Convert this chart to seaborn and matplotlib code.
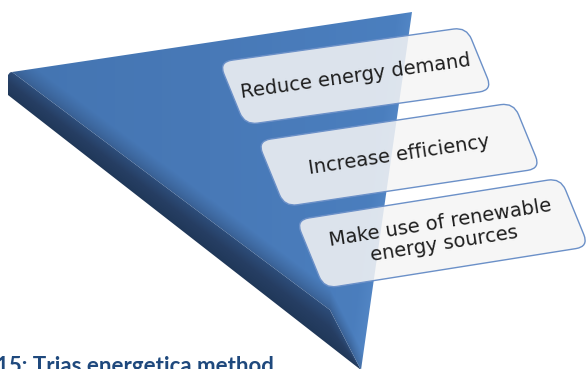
import numpy as np
import matplotlib
matplotlib.use("Agg")
import matplotlib.pyplot as plt
import seaborn as sns
from matplotlib.patches import Polygon, FancyBboxPatch
from matplotlib.transforms import Affine2D

# ---- content ----
labels = ["Reduce energy demand", "Increase efficiency",
          "Make use of renewable\nenergy sources"]
steps = [0, 1, 2]
caption = "15: Trias energetica method"

sns.set_theme(style="white")
plt.rcParams['font.family'] = ['DejaVu Sans']

W, H = 587, 369
fig = plt.figure(figsize=(W / 100, H / 100), dpi=100)
ax = fig.add_axes([0, 0, 1, 1])
ax.axis('off')

# ---- triangle geometry (layout) ----
A = (12, 72)      # top-left corner of top face
B = (412, 12)     # top-right corner
K = (330, 310)    # bevel knee near tip
T = (361, 370)    # bottom tip
O = (8, 95)       # outer lower-left corner of side face

yy, xx = np.mgrid[0:H, 0:W] + 0.5

y_bev = np.where(xx <= K[0],
                 A[1] + (xx - A[0]) * (K[1] - A[1]) / (K[0] - A[0]),
                 K[1] + (xx - K[0]) * (T[1] - K[1]) / (T[0] - K[0]))
y_out = O[1] + (xx - O[0]) * (T[1] - O[1]) / (T[0] - O[0])

# top face gradient
top_cmap = sns.blend_palette(["#4475b2", "#4879b7", "#4b7fbf"], as_cmap=True)
t = np.clip((xx - 20) / 380, 0, 1)
top_rgb = top_cmap(t)[..., :3]
dist = np.clip((y_bev - yy) / 22, 0, 1)[..., None] ** 0.8
top_rgb = top_rgb * dist + np.array([0.22, 0.37, 0.57]) * (1 - dist)
x_edge = B[0] - (yy - B[1]) * (B[0] - T[0]) / (T[1] - B[1])
d = x_edge - xx
hl = np.clip(1 - d / 14, 0, 1)[..., None] * 0.25
top_rgb = top_rgb * (1 - hl) + np.array([0.40, 0.60, 0.84]) * hl

# side face gradient
side_cmap = sns.blend_palette(["#203859", "#263e63", "#2d4d7a"], as_cmap=True)
frac = np.clip((y_out - yy) / np.maximum(y_out - y_bev, 1), 0, 1)
side_rgb = side_cmap(frac)[..., :3]

top_poly = Polygon([A, B, T, K], closed=True, fc='none', ec='none',
                   transform=ax.transData)
side_poly = Polygon([(8, 75), (10, 72.5), A, K, T, O], closed=True,
                    fc='none', ec='none', transform=ax.transData)
ax.add_patch(top_poly)
ax.add_patch(side_poly)
im1 = ax.imshow(side_rgb, extent=(0, W, H, 0), origin='upper', zorder=1,
                interpolation='bilinear', aspect='auto')
im1.set_clip_path(side_poly)
im2 = ax.imshow(top_rgb, extent=(0, W, H, 0), origin='upper', zorder=2,
                interpolation='bilinear', aspect='auto')
im2.set_clip_path(top_poly)

# ---- boxes ----
for i, lab in zip(steps, labels):
    tl = np.array([219 + 38.5 * i, 62 + 79 * i])
    ulen = 250 + 9 * i
    vlen = 68 + 3 * i
    ang = np.deg2rad(8.0 + 0.5 * i)
    eu = np.array([np.cos(ang), -np.sin(ang)])
    ev = np.array([27.0, 66.0]) / np.hypot(27, 66)
    tr = Affine2D(np.array([[eu[0], ev[0], tl[0]],
                            [eu[1], ev[1], tl[1]],
                            [0, 0, 1]])) + ax.transData
    box = FancyBboxPatch((0, 0), ulen, vlen,
                         boxstyle="round,pad=0,rounding_size=13",
                         transform=tr, fc=(0.96, 0.96, 0.96, 0.86),
                         ec="#6b90c8", lw=1.0, zorder=5)
    ax.add_patch(box)
    c = tl + eu * ulen / 2 + ev * vlen / 2
    ax.text(c[0], c[1], lab, rotation=np.rad2deg(ang), rotation_mode='anchor',
            ha='center', va='center', multialignment='center',
            fontsize=14, color='#1e1e1e', linespacing=1.15, zorder=6)

ax.text(-4, 373, caption, family=['Lato', 'DejaVu Sans'], fontweight='bold',
        fontsize=16, color='#1f497d', ha='left', va='baseline', zorder=7)

ax.set_xlim(0, W)
ax.set_ylim(H, 0)
fig.savefig("out.png", dpi=100)
